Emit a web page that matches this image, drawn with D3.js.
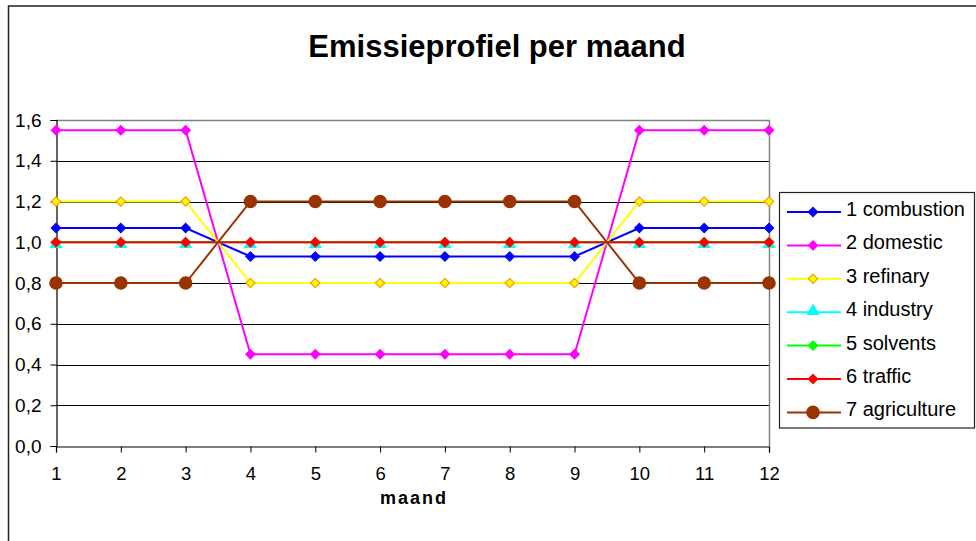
<!DOCTYPE html>
<html>
<head>
<meta charset="utf-8">
<script src="https://cdn.jsdelivr.net/npm/d3@7"></script>
<style>
  html, body { margin: 0; padding: 0; background: #fff; }
  svg { display: block; font-family: "Liberation Sans", Arial, sans-serif; }
</style>
</head>
<body>
<svg id="chart" width="976" height="541"></svg>
<script>
// Months on the x axis
const months = [1, 2, 3, 4, 5, 6, 7, 8, 9, 10, 11, 12];

// Monthly emission factors per source category
const combustion  = [1.07, 1.07, 1.07, 0.93, 0.93, 0.93, 0.93, 0.93, 0.93, 1.07, 1.07, 1.07];
const domestic    = [1.55, 1.55, 1.55, 0.45, 0.45, 0.45, 0.45, 0.45, 0.45, 1.55, 1.55, 1.55];
const refinary    = [1.2, 1.2, 1.2, 0.8, 0.8, 0.8, 0.8, 0.8, 0.8, 1.2, 1.2, 1.2];
const industry    = [1.0, 1.0, 1.0, 1.0, 1.0, 1.0, 1.0, 1.0, 1.0, 1.0, 1.0, 1.0];
const solvents    = [1.0, 1.0, 1.0, 1.0, 1.0, 1.0, 1.0, 1.0, 1.0, 1.0, 1.0, 1.0];
const traffic     = [1.0, 1.0, 1.0, 1.0, 1.0, 1.0, 1.0, 1.0, 1.0, 1.0, 1.0, 1.0];
const agriculture = [0.8, 0.8, 0.8, 1.2, 1.2, 1.2, 1.2, 1.2, 1.2, 0.8, 0.8, 0.8];

const seriesNames = ["1 combustion", "2 domestic", "3 refinary", "4 industry", "5 solvents", "6 traffic", "7 agriculture"];
const yTicks = [0, 0.2, 0.4, 0.6, 0.8, 1.0, 1.2, 1.4, 1.6];

const seriesValues = [combustion, domestic, refinary, industry, solvents, traffic, agriculture];
const styles = [
  { line: "#0000ff", fill: "#0000ff", stroke: "#0000ff", shape: "diamond" },
  { line: "#ff00ff", fill: "#ff00ff", stroke: "#ff00ff", shape: "diamond" },
  { line: "#ffff00", fill: "#ffff00", stroke: "#ff9900", shape: "diamond" },
  { line: "#00ffff", fill: "#00ffff", stroke: "#00ffff", shape: "triangle" },
  { line: "#00ff00", fill: "#00ff00", stroke: "#00ff00", shape: "diamond" },
  { line: "#ff0000", fill: "#ff0000", stroke: "#ff0000", shape: "diamond" },
  { line: "#993300", fill: "#993300", stroke: "#993300", shape: "circle" }
];
const series = seriesNames.map((name, i) => ({ name, values: seriesValues[i], style: styles[i] }));

const svg = d3.select("#chart");

// Outer chart frame
svg.append("rect").attr("x", 8.5).attr("y", 6).attr("width", 1000).attr("height", 600)
  .attr("fill", "none").attr("stroke", "#222").attr("stroke-width", 1.5);

// Title
svg.append("text").attr("x", 497).attr("y", 57).attr("text-anchor", "middle")
  .attr("font-size", 31).attr("font-weight", "bold").attr("fill", "#000")
  .text("Emissieprofiel per maand");

const plot = { left: 56, right: 769, top: 120, bottom: 446 };
const x = d3.scaleLinear().domain([1, 12]).range([plot.left, plot.right]);
const y = d3.scaleLinear().domain([0, 1.6]).range([plot.bottom, plot.top]);
const fmt = v => d3.format(".1f")(v).replace(".", ",");

// Horizontal gridlines
svg.append("g").selectAll("line").data(yTicks.filter(v => v > 0 && v < 1.6)).join("line")
  .attr("x1", plot.left).attr("x2", plot.right)
  .attr("y1", d => Math.round(y(d)) + 0.5).attr("y2", d => Math.round(y(d)) + 0.5)
  .attr("stroke", "#000").attr("stroke-width", 1);

// Plot area border (top and right)
svg.append("path")
  .attr("d", `M${plot.left},${plot.top + 0.5}H${plot.right + 0.5}V${plot.bottom}`)
  .attr("fill", "none").attr("stroke", "#808080").attr("stroke-width", 1.5);

// Y axis
const yAxis = svg.append("g").attr("transform", `translate(${plot.left + 0.5},0)`)
  .call(d3.axisLeft(y).tickValues(yTicks).tickFormat(fmt).tickSize(6).tickPadding(9));
yAxis.select(".domain").attr("stroke", "#000").attr("stroke-width", 1.2);
yAxis.selectAll(".tick line").attr("stroke", "#000");
yAxis.selectAll("text").attr("font-size", 19).attr("fill", "#000")
  .attr("font-family", "Liberation Sans, Arial, sans-serif");

// X axis
const xAxis = svg.append("g").attr("transform", `translate(0,${plot.bottom + 0.5})`)
  .call(d3.axisBottom(x).tickValues(months).tickFormat(d3.format("d")).tickSize(6).tickPadding(14));
xAxis.select(".domain").attr("stroke", "#000").attr("stroke-width", 1.2);
xAxis.selectAll(".tick line").attr("stroke", "#000");
xAxis.selectAll("text").attr("font-size", 18.5).attr("fill", "#000")
  .attr("font-family", "Liberation Sans, Arial, sans-serif");

// X axis title
svg.append("text").attr("x", 414).attr("y", 504).attr("text-anchor", "middle")
  .attr("font-size", 18).attr("font-weight", "bold").attr("letter-spacing", 2)
  .attr("fill", "#000").text("maand");

function markerPath(shape) {
  if (shape === "diamond") return d3.symbol().type(d3.symbolDiamond2).size(54)();
  if (shape === "triangle") return d3.symbol().type(d3.symbolTriangle).size(55)();
  return d3.symbol().type(d3.symbolCircle).size(120)();
}

const line = d3.line().x((d, i) => x(months[i])).y(d => y(d));

// Series lines and markers, drawn in order so later series sit on top
series.forEach(s => {
  const g = svg.append("g");
  g.append("path").datum(s.values).attr("d", line)
    .attr("fill", "none").attr("stroke", s.style.line).attr("stroke-width", 2);
  g.selectAll("path.m").data(s.values).join("path").attr("class", "m")
    .attr("d", markerPath(s.style.shape))
    .attr("transform", (d, i) => `translate(${x(months[i])},${y(d) + (s.style.shape === "triangle" ? 2 : 0)})`)
    .attr("fill", s.style.fill).attr("stroke", s.style.stroke).attr("stroke-width", 1.2);
});

// Legend
const lg = svg.append("g");
lg.append("rect").attr("x", 779.5).attr("y", 192.5).attr("width", 195).attr("height", 235.5)
  .attr("fill", "#fff").attr("stroke", "#222").attr("stroke-width", 1.2);
series.forEach((s, i) => {
  const cy = 212 + i * 33.4;
  lg.append("line").attr("x1", 787).attr("x2", 841).attr("y1", cy).attr("y2", cy)
    .attr("stroke", s.style.line).attr("stroke-width", 2);
  lg.append("path").attr("d", markerPath(s.style.shape))
    .attr("transform", `translate(813,${cy + (s.style.shape === "triangle" ? -1 : 0)})`)
    .attr("fill", s.style.fill).attr("stroke", s.style.stroke).attr("stroke-width", 1.2);
  lg.append("text").attr("x", 846).attr("y", cy + 4).attr("font-size", 20)
    .attr("fill", "#000").text(s.name);
});
</script>
</body>
</html>
